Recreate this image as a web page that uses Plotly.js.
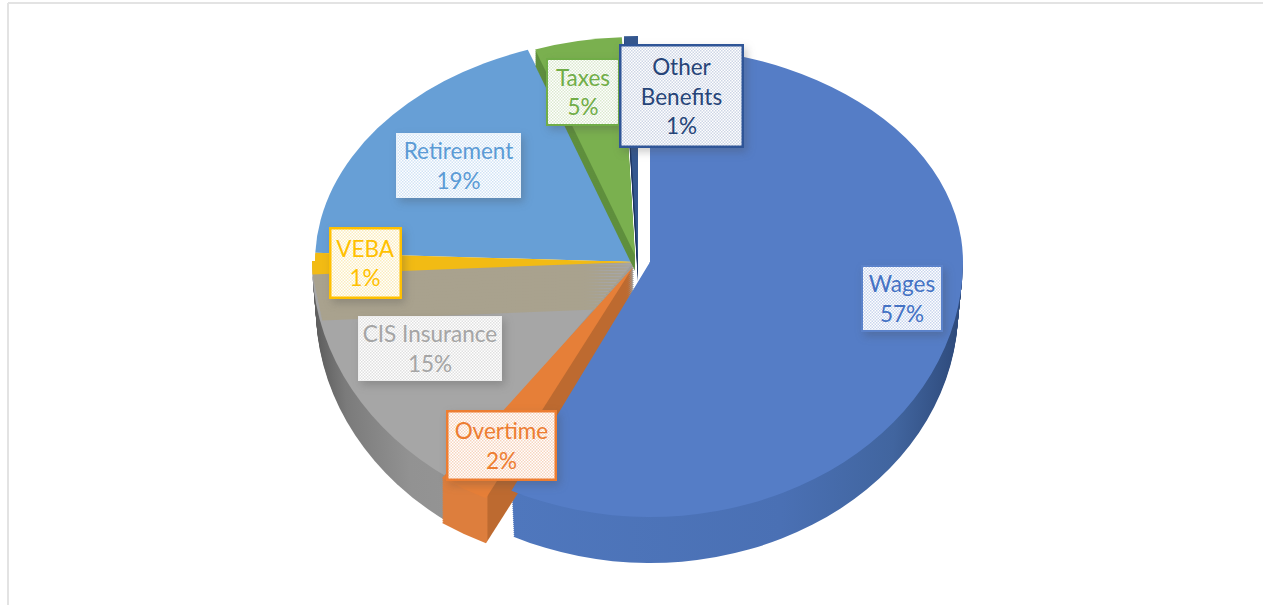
<!DOCTYPE html>
<html>
<head>
<meta charset="utf-8">
<script src="https://cdn.plot.ly/plotly-3.0.1.min.js"></script>
<style>
html,body{margin:0;padding:0;background:#fff;overflow:hidden}
#chart{width:1263px;height:605px}
.annotation rect.bg{filter:drop-shadow(3px 4px 4px rgba(70,70,70,.28))}
</style>
</head>
<body>
<div id="chart"></div>
<script>
const categories = ['Wages','Overtime','CIS Insurance','VEBA','Retirement','Taxes','Other Benefits'];
const values = [57.3, 2.45, 14.5, 1.4, 18.95, 4.7, 0.7];
const labelLines = [['Wages'],['Overtime'],['CIS Insurance'],['VEBA'],['Retirement'],['Taxes'],['Other','Benefits']];
const surfaceColors = ['#557dc6','#e67f38','#a6a6a6','#f2bb14','#679fd6','#7ab04f','#34578f'];
const depthColors = ['#4a70b4','#c56d30','#8c8c8c','#a9a28e','#5a8dc0','#5f8f3d','#1f3864'];
const textColors = ['#4472c4','#ed7d31','#a5a5a5','#ffc000','#5b9bd5','#70ad47','#264478'];
const labelFills = ['#e4eaf6','#fbeadf','#f0f0f0','#fdf6de','#e8f1fa','#edf4e7','#e6eaf2'];
const labelDither = ['#c9d5ed','#f7d5bf','#e0e0e0','#fbedbd','#d1e3f5','#dbe9cf','#cdd5e5'];
const borderColors = ['#5b82ca','#ed7d31','#ededed','#ffc000','#e8f1fa','#70ad47','#2f5597'];
const borderWidths = [2,2.5,1,2.5,1,2,2.5];
const labelBoxes = [[863,941,267,330],[448,554,412,478],[359,501,317,380],[331,399,230,297],[397,520,134,197],[548,618,60,124],[622,742,46,145]];

const W = 1263, H = 605;
const geom = {
  rest:     {cx:634, cy:262, rxU:319, ryU:225, rxD:322, ryD:264},
  wages:    {cx:650, cy:262, rxU:313, ryU:215, rxD:313, ryD:255},
  overtime: {cx:633, cy:267, rxU:332, ryU:258, rxD:332, ryD:258},
  taxes:    {cx:635, cy:255, rxU:300, ryU:218, rxD:300, ryD:218},
  other:    {cx:638, cy:262, rxU:320, ryU:226, rxD:320, ryD:226}
};

const data = [], specs = [];
function addLayer(idx, color, g, half, t, taper, grad){
  const colors = categories.map((c,i)=> idx.includes(i) ? color(i) : 'rgba(0,0,0,0)');
  data.push({type:'pie', labels:categories, values:values, sort:false, direction:'clockwise', rotation:0,
    textinfo:'none', hoverinfo:'skip', showlegend:false, domain:{x:[0.3,0.7],y:[0.1,0.9]},
    marker:{colors:colors, line:{width:0}}});
  specs.push({g, half, t, taper:taper||1, grad:grad||null});
}
function addSurface(idx, g, half){ addLayer(idx, i=>surfaceColors[i], g, half, 0); }
function addDepth(idx, g, halves, maxT, step, taperTotal, grad){
  for(let t=maxT; t>0; t-=step){
    const tp = 1 - taperTotal*t/maxT;
    halves.forEach(h=>addLayer(idx, i=>depthColors[i], g, h, t, tp, grad));
  }
}
const WAGES=0, OT=1, CIS=2, VEBA=3, RET=4, TAX=5, OTH=6;

addSurface([RET], geom.rest, 'up');
addDepth([CIS], geom.rest, ['down'], 46, 2, 0.012, 'gradGray');
addSurface([CIS], geom.rest, 'down');
addDepth([VEBA], geom.rest, ['up','down'], 46, 3, 0.03, null);
addSurface([VEBA], geom.rest, 'up');
addSurface([VEBA], geom.rest, 'down');
addDepth([TAX], geom.taxes, ['up'], 16, 2, 0, null);
addSurface([TAX], geom.taxes, 'up');
addDepth([OTH], geom.other, ['up'], 20, 2, 0, null);
addSurface([OTH], geom.other, 'up');
addDepth([WAGES], geom.wages, ['down'], 46, 2, 0.015, 'gradBlue');
addDepth([OT], geom.overtime, ['down'], 45, 2, 0, 'gradOrange');
addSurface([OT], geom.overtime, 'down');
addSurface([WAGES], geom.wages, 'up');
addSurface([WAGES], geom.wages, 'down');

const annotations = categories.map((c,i)=>{
  const b = labelBoxes[i];
  return {xref:'paper', yref:'paper', x:(b[0]+b[1])/2/W, y:1-(b[2]+b[3])/2/H,
    xanchor:'center', yanchor:'middle', showarrow:false, align:'center', valign:'middle',
    width:b[1]-b[0], height:b[3]-b[2], borderpad:0,
    text:labelLines[i].concat([Math.round(values[i])+'%']).join('<br>'),
    font:{family:'Lato, "Noto Sans", sans-serif', size:22.5, color:textColors[i]},
    bgcolor:labelFills[i], bordercolor:borderColors[i], borderwidth:borderWidths[i]};
});

const layout = {
  width:W, height:H, margin:{l:0,r:0,t:0,b:0}, paper_bgcolor:'#ffffff', showlegend:false,
  annotations,
  shapes:[
    {type:'line', xref:'paper', yref:'paper', x0:8/W, x1:1, y0:1-3/H, y1:1-3/H, line:{color:'#e3e3e3',width:2}},
    {type:'line', xref:'paper', yref:'paper', x0:8/W, x1:8/W, y0:0, y1:1-3/H, line:{color:'#e3e3e3',width:2}}
  ]
};

const gd = document.getElementById('chart');
Plotly.newPlot(gd, data, layout, {displayModeBar:false, staticPlot:true}).then(()=>{
  const svg = gd.querySelector('svg.main-svg');
  const NS = 'http://www.w3.org/2000/svg';
  const defs = document.createElementNS(NS,'defs');
  const c0 = gd.calcdata[0][0];
  const mk = (id, y, h)=>{
    const cp = document.createElementNS(NS,'clipPath'); cp.setAttribute('id',id);
    const r = document.createElementNS(NS,'rect');
    r.setAttribute('x',-5000); r.setAttribute('y',y); r.setAttribute('width',10000); r.setAttribute('height',h);
    cp.appendChild(r); defs.appendChild(cp);
  };
  mk('clipUp', -5000, 5000 + c0.cy + 1);
  mk('clipDown', c0.cy - 1, 5000);
  const grad = (id, stops)=>{
    const lg = document.createElementNS(NS,'linearGradient'); lg.setAttribute('id',id);
    lg.setAttribute('x1','0'); lg.setAttribute('x2','1'); lg.setAttribute('y1','0'); lg.setAttribute('y2','0');
    stops.forEach(s=>{const e=document.createElementNS(NS,'stop'); e.setAttribute('offset',s[0]); e.setAttribute('stop-color',s[1]); lg.appendChild(e);});
    defs.appendChild(lg);
  };
  grad('gradGray', [[0,'#5c5c5c'],[0.1,'#7b7b7b'],[0.3,'#929292'],[1,'#9c9c9c']]);
  grad('gradBlue', [[0,'#4f77bd'],[0.6,'#4a70b4'],[0.85,'#41659f'],[1,'#2e4a7b']]);
  grad('gradOrange', [[0,'#dd7e3d'],[0.235,'#dd7e3d'],[0.24,'#bd6a30'],[1,'#bd6a30']]);
  // dithered label backgrounds
  labelDither.forEach((tint,i)=>{
    const p = document.createElementNS(NS,'pattern');
    p.setAttribute('id','dither'+i); p.setAttribute('patternUnits','userSpaceOnUse');
    p.setAttribute('width',3); p.setAttribute('height',3);
    [[0,0,3,3,'#ffffff'],[0,0,1.5,1.5,tint],[1.5,1.5,1.5,1.5,tint]].forEach(r=>{
      const e = document.createElementNS(NS,'rect');
      e.setAttribute('x',r[0]); e.setAttribute('y',r[1]); e.setAttribute('width',r[2]); e.setAttribute('height',r[3]); e.setAttribute('fill',r[4]);
      p.appendChild(e);
    });
    defs.appendChild(p);
  });
  svg.insertBefore(defs, svg.firstChild);
  gd.querySelectorAll('.annotation').forEach(a=>{
    const i = +a.getAttribute('data-index');
    const bg = a.querySelector('rect.bg');
    if(bg) bg.style.fill = 'url(#dither'+i+')';
  });
  const groups = gd.querySelectorAll('.pielayer > g.trace');
  groups.forEach((el,i)=>{
    const s = specs[i], c = gd.calcdata[i][0], g = s.g;
    const rx = (s.half==='up'?g.rxU:g.rxD)*s.taper, ry = (s.half==='up'?g.ryU:g.ryD);
    el.setAttribute('transform',
      'translate('+g.cx+','+(g.cy+s.t)+') scale('+(rx/c.r)+','+(ry/c.r)+') translate('+(-c.cx)+','+(-c.cy)+')');
    el.setAttribute('clip-path', 'url(#'+(s.half==='up'?'clipUp':'clipDown')+')');
    if(s.grad){
      el.querySelectorAll('path.surface').forEach(p=>{
        if(!/rgba\(0, ?0, ?0, ?0\)/.test(p.style.fill) && p.style.fillOpacity!=='0') p.style.fill='url(#'+s.grad+')';
      });
    }
  });
});
</script>
</body>
</html>
